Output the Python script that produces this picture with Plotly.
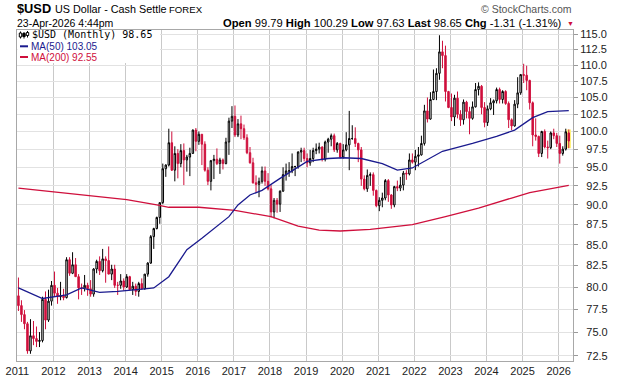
import math
import plotly.graph_objects as go

# ---------------- data (monthly $USD, Jan 2011 .. Apr 2026) ----------------
START_YEAR = 2011

OPEN = [
    79.0, 77.9, 76.9, 75.9, 73.0, 74.6, 74.3, 74.0, 74.1, 78.6, 76.3, 78.4,
    80.2, 79.3, 78.9, 79.0, 78.8, 83.2, 81.6, 82.6, 81.2, 79.9, 79.9, 80.2,
    79.8, 79.2, 82.1, 83.0, 81.9, 83.3, 83.1, 81.5, 82.1, 80.2, 80.2, 80.7,
    80.0, 81.2, 79.7, 80.1, 79.5, 80.4, 79.8, 81.5, 82.8, 86.0, 87.0, 88.4,
    90.3, 94.8, 95.3, 98.4, 94.6, 96.9, 95.5, 97.3, 96.0, 96.4, 96.9, 100.2,
    98.6, 99.6, 98.2, 94.6, 93.1, 95.9, 96.1, 95.5, 96.0, 95.5, 98.5, 101.5,
    102.2, 99.5, 101.1, 100.4, 99.1, 97.0, 95.6, 92.9, 92.7, 93.1, 94.5, 93.1,
    92.1, 89.1, 90.6, 90.1, 91.8, 94.0, 94.5, 94.5, 95.1, 95.1, 97.1, 97.3,
    96.2, 95.6, 96.2, 97.3, 97.5, 97.8, 96.1, 98.5, 98.9, 99.4, 97.4, 98.3,
    96.4, 97.4, 98.1, 99.0, 99.0, 98.3, 97.4, 93.4, 92.1, 93.9, 94.0, 91.9,
    89.9, 90.6, 90.9, 93.2, 91.3, 90.0, 92.4, 92.2, 92.6, 94.2, 94.1, 96.0,
    95.7, 96.5, 96.7, 98.3, 103.0, 101.8, 104.7, 105.9, 108.7, 112.1, 111.5, 105.9,
    103.5, 102.1, 104.9, 102.5, 101.7, 104.3, 102.9, 101.9, 103.6, 106.2, 106.7, 103.5,
    101.3, 103.3, 104.2, 104.5, 106.2, 104.7, 105.9, 104.1, 101.7, 100.8, 104.0, 105.7,
    108.5, 108.4, 107.6, 104.2, 99.5, 99.3, 96.9, 100.0, 97.8, 97.7, 99.8, 99.4,
    98.3, 96.9, 97.5, 99.79,
]
HIGH = [
    81.1, 78.5, 77.4, 76.1, 76.4, 76.2, 75.6, 75.0, 78.9, 79.5, 79.7, 80.7,
    81.8, 79.9, 80.6, 79.8, 83.5, 83.5, 84.1, 83.4, 81.5, 80.4, 81.4, 80.5,
    80.8, 82.2, 83.2, 83.6, 84.5, 83.6, 84.8, 82.6, 82.6, 80.6, 81.5, 81.0,
    81.5, 81.3, 80.6, 80.4, 80.6, 81.0, 81.5, 82.9, 86.2, 87.1, 88.5, 90.3,
    95.5, 95.4, 100.4, 100.0, 97.9, 97.5, 98.2, 98.3, 96.7, 97.7, 100.3, 100.5,
    100.0, 99.6, 98.6, 95.0, 96.0, 96.7, 97.6, 96.3, 96.2, 99.1, 102.0, 103.7,
    103.8, 101.8, 102.3, 101.0, 99.6, 97.8, 96.3, 93.9, 93.6, 95.1, 95.1, 94.2,
    92.6, 90.9, 90.9, 91.9, 95.0, 95.5, 95.7, 96.9, 95.2, 97.2, 97.7, 97.7,
    96.9, 97.4, 97.7, 98.3, 98.4, 97.9, 98.7, 99.1, 99.7, 99.7, 98.5, 98.4,
    98.2, 99.9, 103.0, 100.9, 100.6, 98.4, 97.8, 93.9, 94.7, 94.3, 94.3, 92.0,
    91.0, 91.6, 93.4, 93.4, 91.4, 92.5, 93.2, 93.7, 94.5, 94.6, 96.9, 96.9,
    97.4, 97.8, 99.4, 103.9, 105.0, 105.8, 109.3, 109.5, 114.8, 113.9, 113.1, 106.0,
    105.6, 105.4, 105.9, 103.1, 104.7, 104.5, 103.6, 104.4, 107.2, 107.3, 106.9, 104.3,
    103.8, 104.9, 104.7, 106.5, 106.5, 106.1, 106.1, 104.4, 101.9, 104.6, 108.1, 108.6,
    110.2, 109.9, 107.7, 104.4, 101.9, 99.4, 100.1, 100.3, 98.7, 100.0, 100.4, 99.8,
    99.4, 97.9, 100.4, 100.29,
]
LOW = [
    77.3, 76.1, 75.3, 72.7, 72.7, 73.6, 73.4, 73.4, 73.9, 75.3, 76.1, 77.9,
    78.9, 78.1, 78.5, 78.5, 78.7, 81.3, 81.5, 81.2, 78.6, 79.1, 79.5, 79.0,
    78.9, 78.9, 81.6, 81.4, 81.7, 80.5, 81.6, 80.8, 79.9, 79.1, 79.8, 79.6,
    79.9, 79.7, 79.1, 79.0, 78.9, 79.7, 79.7, 81.2, 82.7, 84.5, 86.9, 87.6,
    90.1, 93.7, 95.1, 94.5, 93.1, 93.5, 95.0, 92.6, 94.4, 93.8, 96.9, 97.2,
    98.1, 95.3, 94.4, 92.6, 91.9, 93.4, 95.3, 94.1, 94.7, 95.4, 96.7, 100.5,
    99.2, 99.2, 98.9, 98.8, 96.8, 95.5, 92.8, 91.6, 91.0, 92.8, 92.5, 91.9,
    88.4, 88.3, 89.0, 89.1, 91.7, 93.2, 93.7, 94.2, 93.8, 94.8, 95.7, 95.8,
    95.0, 95.2, 95.7, 96.8, 96.9, 95.8, 95.8, 97.0, 97.9, 97.1, 97.0, 96.2,
    96.2, 97.2, 94.6, 98.8, 97.8, 95.7, 92.5, 91.9, 91.7, 92.5, 91.2, 89.7,
    89.2, 89.7, 90.6, 90.4, 89.5, 89.7, 91.8, 91.8, 91.9, 93.3, 93.9, 95.5,
    94.6, 95.1, 96.6, 98.0, 101.3, 101.7, 104.6, 104.6, 107.7, 109.5, 104.4, 103.4,
    101.5, 100.8, 101.9, 100.8, 101.0, 101.9, 99.6, 101.7, 103.5, 105.3, 102.5, 100.6,
    100.8, 103.1, 102.4, 104.1, 104.1, 104.1, 103.9, 100.5, 100.2, 100.7, 103.4, 105.4,
    107.2, 106.1, 103.2, 97.9, 98.7, 96.4, 96.4, 97.6, 96.2, 97.5, 98.9, 97.8,
    95.5, 96.6, 97.3, 97.63,
]
CLOSE = [
    77.9, 76.9, 75.9, 73.0, 74.6, 74.3, 74.0, 74.1, 78.6, 76.3, 78.4, 80.2,
    79.3, 78.9, 79.0, 78.8, 83.2, 81.6, 82.6, 81.2, 79.9, 79.9, 80.2, 79.8,
    79.2, 82.1, 83.0, 81.9, 83.3, 83.1, 81.5, 82.1, 80.2, 80.2, 80.7, 80.0,
    81.2, 79.7, 80.1, 79.5, 80.4, 79.8, 81.5, 82.8, 86.0, 87.0, 88.4, 90.3,
    94.8, 95.3, 98.4, 94.6, 96.9, 95.5, 97.3, 96.0, 96.4, 96.9, 100.2, 98.6,
    99.6, 98.2, 94.6, 93.1, 95.9, 96.1, 95.5, 96.0, 95.5, 98.5, 101.5, 102.2,
    99.5, 101.1, 100.4, 99.1, 97.0, 95.6, 92.9, 92.7, 93.1, 94.5, 93.1, 92.1,
    89.1, 90.6, 90.1, 91.8, 94.0, 94.5, 94.5, 95.1, 95.1, 97.1, 97.3, 96.2,
    95.6, 96.2, 97.3, 97.5, 97.8, 96.1, 98.5, 98.9, 99.4, 97.4, 98.3, 96.4,
    97.4, 98.1, 99.0, 99.0, 98.3, 97.4, 93.4, 92.1, 93.9, 94.0, 91.9, 89.9,
    90.6, 90.9, 93.2, 91.3, 90.0, 92.4, 92.2, 92.6, 94.2, 94.1, 96.0, 95.7,
    96.5, 96.7, 98.3, 103.0, 101.8, 104.7, 105.9, 108.7, 112.1, 111.5, 105.9, 103.5,
    102.1, 104.9, 102.5, 101.7, 104.3, 102.9, 101.9, 103.6, 106.2, 106.7, 103.5, 101.3,
    103.3, 104.2, 104.5, 106.2, 104.7, 105.9, 104.1, 101.7, 100.8, 104.0, 105.7, 108.5,
    108.4, 107.6, 104.2, 99.5, 99.3, 96.9, 100.0, 97.8, 97.7, 99.8, 99.4, 98.3,
    96.9, 97.5, 99.96, 98.65,
]

# moving averages (month, value)
MA50_MONTHS = ["2011-01", "2011-09", "2012-05", "2012-10", "2013-04", "2013-10", "2014-07",
               "2014-10", "2015-03", "2015-09", "2016-02", "2016-11", "2017-02", "2017-06",
               "2017-10", "2018-04", "2019-01", "2019-08", "2020-01", "2020-07", "2021-02",
               "2021-07", "2021-12", "2022-05", "2022-10", "2023-08", "2024-04", "2024-10",
               "2025-04", "2025-09", "2026-04"]
MA50_VALUES = [79.9, 78.7, 79.1, 79.9, 79.4, 79.5, 79.8,
               79.9, 81.2, 84.4, 85.8, 88.5, 90.0, 91.3,
               91.9, 93.5, 95.8, 96.2, 96.3, 96.2, 95.5,
               94.6, 94.9, 96.0, 97.2, 98.3, 99.3, 100.2,
               102.0, 102.9, 103.05]
MA200_MONTHS = ["2011-01", "2012-05", "2014-01", "2014-11", "2015-03", "2016-01", "2017-01",
                "2018-01", "2018-10", "2019-05", "2019-12", "2020-10", "2021-12", "2022-11",
                "2023-10", "2024-09", "2025-03", "2026-04"]
MA200_VALUES = [92.2, 91.5, 90.7, 90.0, 89.7, 89.7, 89.3,
                88.5, 87.3, 86.8, 86.7, 86.9, 87.5, 88.5,
                89.6, 90.9, 91.6, 92.55]

YEAR_TICKS = list(range(2011, 2027))
PRICE_TICKS = [72.5, 75.0, 77.5, 80.0, 82.5, 85.0, 87.5, 90.0, 92.5, 95.0, 97.5,
               100.0, 102.5, 105.0, 107.5, 110.0, 112.5, 115.0]

# ---------------- styling ----------------
RED = "#cf0f3c"
NAVY = "#1a1a8e"
W, H = 620, 376
L_PX, R_PX, T_PX, B_PX = 17, 573, 30, 361
OFF = 0.03  # candle offset from month start (in years)


def month_x(s):
    y, m = s.split("-")
    return int(y) + (int(m) - 1) / 12 + OFF


def pxx(p):
    return (p - L_PX) / (R_PX - L_PX)


def pxy(p):
    return (B_PX - p) / (B_PX - T_PX)


n = len(CLOSE)
xs = [START_YEAR + i / 12 + OFF for i in range(n)]

fig = go.Figure()

fig.add_trace(go.Candlestick(
    x=xs, open=OPEN, high=HIGH, low=LOW, close=CLOSE,
    increasing=dict(line=dict(color="#000000", width=1), fillcolor="#ffffff"),
    decreasing=dict(line=dict(color=RED, width=1), fillcolor=RED),
    whiskerwidth=0, showlegend=False, hoverinfo="skip",
))
fig.add_trace(go.Scatter(
    x=[month_x(m) for m in MA200_MONTHS], y=MA200_VALUES, mode="lines",
    line=dict(color=RED, width=1.3), showlegend=False, hoverinfo="skip",
))
fig.add_trace(go.Scatter(
    x=[month_x(m) for m in MA50_MONTHS], y=MA50_VALUES, mode="lines",
    line=dict(color=NAVY, width=1.3), showlegend=False, hoverinfo="skip",
))

def fmt_tick(v):
    s = f"{v:.1f}"
    return ("\u2007" + s) if v < 100 else s

FONT = "Liberation Sans, Arial, sans-serif"

fig.update_layout(
    width=W, height=H,
    margin=dict(l=L_PX, r=W - R_PX, t=T_PX, b=H - B_PX, pad=0, autoexpand=False),
    paper_bgcolor="white", plot_bgcolor="white",
    showlegend=False,
    font=dict(family=FONT, size=11, color="#222222"),
    xaxis=dict(
        range=[2010.99, START_YEAR + (R_PX - 16.7) / 36.13],
        tickvals=YEAR_TICKS, ticktext=[str(y) for y in YEAR_TICKS],
        showgrid=True, gridcolor="#c9c9c9", gridwidth=1,
        showline=True, linecolor="#a8a8a8", linewidth=1, mirror=True,
        ticks="", zeroline=False, rangeslider=dict(visible=False),
        tickfont=dict(size=11, color="#222222"), automargin=False,
    ),
    yaxis=dict(
        type="log", side="right",
        range=[math.log10(71.95), math.log10(115.67)],
        tickvals=PRICE_TICKS, ticktext=[fmt_tick(v) for v in PRICE_TICKS],
        showgrid=True, gridcolor="#e2e2e2", gridwidth=1,
        showline=True, linecolor="#a8a8a8", linewidth=1, mirror=True,
        ticks="outside", ticklen=4, tickcolor="#9a9a9a",
        zeroline=False, tickfont=dict(size=11, color="#222222"), automargin=False,
    ),
)

shapes = []
# highlight of the latest bar (from its own high/low)
shapes.append(dict(type="rect", xref="x", yref="y", layer="between",
                   x0=xs[-1] - 0.062, x1=xs[-1] + 0.062, y0=LOW[-1], y1=HIGH[-1],
                   fillcolor="#fff27a", line=dict(width=0)))
# white legend box
shapes.append(dict(type="rect", xref="paper", yref="paper", layer="above",
                   x0=pxx(17.5), x1=pxx(160), y0=pxy(63), y1=pxy(30.5),
                   fillcolor="white", line=dict(width=0)))
# legend swatches for MAs
for yy, col in [(46.3, NAVY), (57.0, RED)]:
    shapes.append(dict(type="line", xref="paper", yref="paper", layer="above",
                       x0=pxx(20), x1=pxx(28), y0=pxy(yy), y1=pxy(yy),
                       line=dict(color=col, width=2)))
# small candlestick glyph in legend
for cx, top, bot, b0, b1, fill in [(20.5, 31.5, 38.5, 33.0, 37.0, "white"),
                                   (24.0, 32.0, 38.5, 33.5, 36.5, "black"),
                                   (27.5, 31.0, 37.5, 32.5, 35.5, "white")]:
    shapes.append(dict(type="line", xref="paper", yref="paper", layer="above",
                       x0=pxx(cx), x1=pxx(cx), y0=pxy(bot), y1=pxy(top),
                       line=dict(color="black", width=1)))
    shapes.append(dict(type="rect", xref="paper", yref="paper", layer="above",
                       x0=pxx(cx - 1.2), x1=pxx(cx + 1.2), y0=pxy(b1), y1=pxy(b0),
                       fillcolor=fill, line=dict(color="black", width=1)))
fig.update_layout(shapes=shapes)

ann = []

def add_text(text, x, y, size, color="#111111", family=FONT, xanchor="left"):
    ann.append(dict(text=text, x=pxx(x), y=pxy(y), xref="paper", yref="paper",
                    xanchor=xanchor, yanchor="middle", showarrow=False,
                    font=dict(size=size, color=color, family=family)))

add_text("<b>$USD</b>", 15, 8.5, 12.8, "#000000")
add_text("US Dollar - Cash Settle", 53, 9.2, 10.8, "#000000")
add_text("FOREX", 166.5, 9.4, 9.6, "#000000")
add_text("23-Apr-2026 4:44pm", 15, 23.2, 10.5, "#000000")
add_text("<b>Open</b> 99.79 <b>High</b> 100.29 <b>Low</b> 97.63 "
         "<b>Last</b> 98.65 <b>Chg</b> -1.31 (-1.31%)", 564, 23.2, 11.2, "#000000",
         xanchor="right")
add_text("▼", 570, 23.5, 7, RED, xanchor="center")
add_text("© StockCharts.com", 574, 8.6, 10.5, "#555555", xanchor="right")
add_text(f"$USD (Monthly) {CLOSE[-1]:.2f}", 30, 35, 10, "#000000",
         family="DejaVu Sans Mono, monospace")
add_text(f"MA(50) {MA50_VALUES[-1]:.2f}", 28.5, 46.3, 10, NAVY)
add_text(f"MA(200) {MA200_VALUES[-1]:.2f}", 28.5, 57.0, 10, RED)

fig.update_layout(annotations=ann)

fig.write_html(
    "out.html",
    config={"displayModeBar": False, "staticPlot": True},
    post_script="document.body.style.margin='0';document.body.style.padding='0';",
)
